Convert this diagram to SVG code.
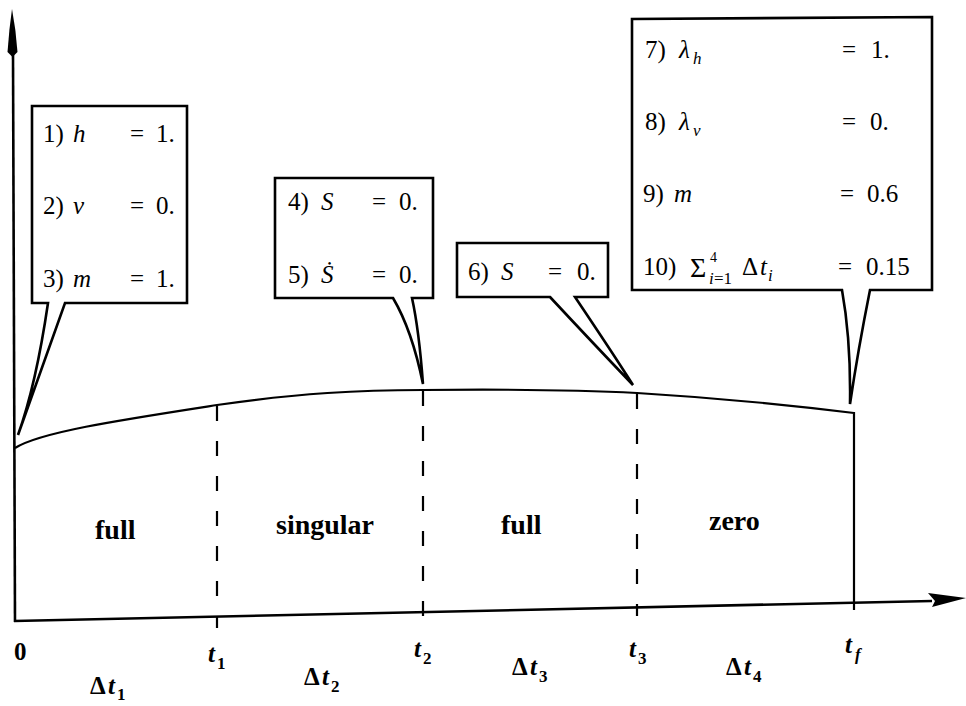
<svg xmlns="http://www.w3.org/2000/svg" width="966" height="706" viewBox="0 0 966 706">
<rect width="966" height="706" fill="#fff"/>
<g id="connectors" fill="none" stroke="#000">
  <path stroke-width="2.6" d="M13,54 L15,622"/>
  <path stroke="none" fill="#000" d="M12,9 Q16,30 17.5,52 L12.5,57 L7.5,52 Q9,30 12,9 Z"/>
  <path stroke-width="2.6" d="M14,621 L932,601"/>
  <path stroke="none" fill="#000" d="M928,593 L966,598 L932,607 L935,601 Z"/>
  <path stroke-width="2.2" d="M15,448 C40,432 120,420 217,405 C300,393 360,390 423,390 C520,389 580,390 637,393 C720,398 790,405 854,413 L854,610"/>
  <path stroke-width="2.2" stroke-dasharray="15 20" d="M217,406 L217,628"/>
  <path stroke-width="2.2" stroke-dasharray="15 20" d="M423,391 L423,621"/>
  <path stroke-width="2.2" stroke-dasharray="15 20" d="M637,394 L637,616"/>
</g>
<g id="box1">
  <path fill="#fff" stroke="#000" stroke-width="2.6" d="M48,303 L32,303 L32,106 L187,106 L187,303 L65,303 L18,435 Q36,385 48,303 Z"/>
  <text font-family="Liberation Serif, serif" font-size="25" x="43" y="142">1)</text>
  <text font-family="Liberation Serif, serif" font-size="25" font-style="italic" x="73" y="142">h</text>
  <text font-family="Liberation Serif, serif" font-size="25" x="130" y="142">=</text>
  <text font-family="Liberation Serif, serif" font-size="25" x="156" y="142">1.</text>
  <text font-family="Liberation Serif, serif" font-size="25" x="43" y="214">2)</text>
  <text font-family="Liberation Serif, serif" font-size="25" font-style="italic" x="73" y="214">v</text>
  <text font-family="Liberation Serif, serif" font-size="25" x="130" y="214">=</text>
  <text font-family="Liberation Serif, serif" font-size="25" x="156" y="214">0.</text>
  <text font-family="Liberation Serif, serif" font-size="25" x="43" y="287">3)</text>
  <text font-family="Liberation Serif, serif" font-size="25" font-style="italic" x="73" y="287">m</text>
  <text font-family="Liberation Serif, serif" font-size="25" x="130" y="287">=</text>
  <text font-family="Liberation Serif, serif" font-size="25" x="156" y="287">1.</text>
</g>
<g id="box2">
  <path fill="#fff" stroke="#000" stroke-width="2.6" d="M393,298 L275,298 L275,178 L433,178 L433,298 L412,298 Q419,330 423,384 Q412,330 393,298 Z"/>
  <text font-family="Liberation Serif, serif" font-size="25" x="288" y="210">4)</text>
  <text font-family="Liberation Serif, serif" font-size="25" font-style="italic" x="321" y="210">S</text>
  <text font-family="Liberation Serif, serif" font-size="25" x="372" y="210">=</text>
  <text font-family="Liberation Serif, serif" font-size="25" x="399" y="210">0.</text>
  <text font-family="Liberation Serif, serif" font-size="25" x="288" y="283">5)</text>
  <text font-family="Liberation Serif, serif" font-size="25" font-style="italic" x="321" y="283">Ṡ</text>
  <text font-family="Liberation Serif, serif" font-size="25" x="372" y="283">=</text>
  <text font-family="Liberation Serif, serif" font-size="25" x="399" y="283">0.</text>
</g>
<g id="box3">
  <path fill="#fff" stroke="#000" stroke-width="2.6" d="M550,297 L457,297 L457,243 L608,243 L608,297 L575,297 Q612,352 633,385 Q590,340 550,297 Z"/>
  <text font-family="Liberation Serif, serif" font-size="25" x="468" y="280">6)</text>
  <text font-family="Liberation Serif, serif" font-size="25" font-style="italic" x="501" y="280">S</text>
  <text font-family="Liberation Serif, serif" font-size="25" x="548" y="280">=</text>
  <text font-family="Liberation Serif, serif" font-size="25" x="577" y="280">0.</text>
</g>
<g id="box4">
  <path fill="#fff" stroke="#000" stroke-width="2.6" d="M842,290 L632,290 L632,19 L932,17 L932,290 L870,290 Q858,350 850,404 Q851,340 842,290 Z"/>
  <text font-family="Liberation Serif, serif" font-size="25" x="645" y="58">7)</text>
  <text font-family="Liberation Serif, serif" font-size="25" font-style="italic" x="679" y="58">λ</text>
  <text font-family="Liberation Serif, serif" font-size="17" font-style="italic" x="693" y="64">h</text>
  <text font-family="Liberation Serif, serif" font-size="25" x="842" y="58">=</text>
  <text font-family="Liberation Serif, serif" font-size="25" x="871" y="58">1.</text>
  <text font-family="Liberation Serif, serif" font-size="25" x="645" y="130">8)</text>
  <text font-family="Liberation Serif, serif" font-size="25" font-style="italic" x="679" y="130">λ</text>
  <text font-family="Liberation Serif, serif" font-size="17" font-style="italic" x="693" y="136">v</text>
  <text font-family="Liberation Serif, serif" font-size="25" x="842" y="130">=</text>
  <text font-family="Liberation Serif, serif" font-size="25" x="870" y="130">0.</text>
  <text font-family="Liberation Serif, serif" font-size="25" x="643" y="202">9)</text>
  <text font-family="Liberation Serif, serif" font-size="25" font-style="italic" x="674" y="202">m</text>
  <text font-family="Liberation Serif, serif" font-size="25" x="840" y="202">=</text>
  <text font-family="Liberation Serif, serif" font-size="25" x="867" y="202">0.6</text>
  <text font-family="Liberation Serif, serif" font-size="25" x="643" y="275">10)</text>
  <text font-family="Liberation Serif, serif" font-size="28" x="690" y="277">Σ</text>
  <text font-family="Liberation Serif, serif" font-size="14" x="710" y="262">4</text>
  <text font-family="Liberation Serif, serif" font-size="17" font-style="italic" x="709" y="284">i</text>
  <text font-family="Liberation Serif, serif" font-size="17" x="714" y="284">=1</text>
  <text font-family="Liberation Serif, serif" font-size="25" x="742" y="275">Δ</text>
  <text font-family="Liberation Serif, serif" font-size="25" font-style="italic" x="760" y="275">t</text>
  <text font-family="Liberation Serif, serif" font-size="17" font-style="italic" x="768" y="281">i</text>
  <text font-family="Liberation Serif, serif" font-size="25" x="838" y="275">=</text>
  <text font-family="Liberation Serif, serif" font-size="25" x="866" y="275">0.15</text>
</g>
<g id="regions">
  <text font-family="Liberation Serif, serif" font-size="28" font-weight="bold" x="95" y="539">full</text>
  <text font-family="Liberation Serif, serif" font-size="28" font-weight="bold" x="276" y="534">singular</text>
  <text font-family="Liberation Serif, serif" font-size="28" font-weight="bold" x="501" y="534">full</text>
  <text font-family="Liberation Serif, serif" font-size="28" font-weight="bold" x="709" y="530">zero</text>
</g>
<g id="ticks">
  <text font-family="Liberation Serif, serif" font-size="25" font-weight="bold" x="14" y="660">0</text>
  <text font-family="Liberation Serif, serif" font-size="25" font-weight="bold" font-style="italic" x="208" y="662">t</text>
  <text font-family="Liberation Serif, serif" font-size="17" font-weight="bold" x="217" y="669">1</text>
  <text font-family="Liberation Serif, serif" font-size="25" font-weight="bold" font-style="italic" x="414" y="657">t</text>
  <text font-family="Liberation Serif, serif" font-size="17" font-weight="bold" x="423" y="664">2</text>
  <text font-family="Liberation Serif, serif" font-size="25" font-weight="bold" font-style="italic" x="629" y="657">t</text>
  <text font-family="Liberation Serif, serif" font-size="17" font-weight="bold" x="638" y="664">3</text>
  <text font-family="Liberation Serif, serif" font-size="25" font-weight="bold" font-style="italic" x="845" y="653">t</text>
  <text font-family="Liberation Serif, serif" font-size="17" font-weight="bold" font-style="italic" x="855" y="660">f</text>
  <text font-family="Liberation Serif, serif" font-size="25" font-weight="bold" x="90" y="694">Δ</text>
  <text font-family="Liberation Serif, serif" font-size="25" font-weight="bold" font-style="italic" x="108" y="694">t</text>
  <text font-family="Liberation Serif, serif" font-size="17" font-weight="bold" x="117" y="700">1</text>
  <text font-family="Liberation Serif, serif" font-size="25" font-weight="bold" x="304" y="685">Δ</text>
  <text font-family="Liberation Serif, serif" font-size="25" font-weight="bold" font-style="italic" x="322" y="685">t</text>
  <text font-family="Liberation Serif, serif" font-size="17" font-weight="bold" x="331" y="692">2</text>
  <text font-family="Liberation Serif, serif" font-size="25" font-weight="bold" x="512" y="675">Δ</text>
  <text font-family="Liberation Serif, serif" font-size="25" font-weight="bold" font-style="italic" x="530" y="675">t</text>
  <text font-family="Liberation Serif, serif" font-size="17" font-weight="bold" x="539" y="682">3</text>
  <text font-family="Liberation Serif, serif" font-size="25" font-weight="bold" x="726" y="675">Δ</text>
  <text font-family="Liberation Serif, serif" font-size="25" font-weight="bold" font-style="italic" x="744" y="675">t</text>
  <text font-family="Liberation Serif, serif" font-size="17" font-weight="bold" x="753" y="682">4</text>
</g>
</svg>
